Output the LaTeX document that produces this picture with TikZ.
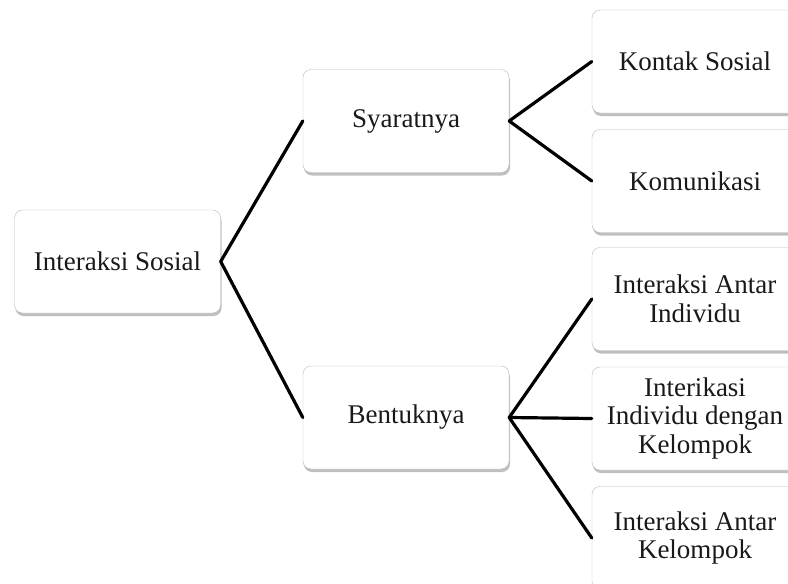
\documentclass[tikz,border=0pt]{standalone}
\usepackage{fontspec}
\setmainfont{Liberation Serif}
\usetikzlibrary{shadows}

\begin{document}
\begin{tikzpicture}[x=1pt,y=-1pt,
        kotak/.style={draw=gray!55, fill=white, rounded corners=8pt,
            minimum width=206pt, minimum height=103pt, align=center,
            font=\fontsize{27}{28.5}\selectfont, text=black!90,
            drop shadow={shadow xshift=1pt,shadow yshift=-3pt,opacity=0.5}},
        garis/.style={line width=3.2pt, line cap=round}]
        \useasboundingbox (0,0) rectangle (788,584);
        \clip (0,0) rectangle (788,584);
        \node[kotak] (IS) at (117.5,261.5) {Interaksi Sosial};
        \node[kotak] (Syarat) at (406,121) {Syaratnya};
        \node[kotak] (Bentuk) at (406,417.5) {Bentuknya};
        \node[kotak] (Kontak) at (695,61.5) {Kontak Sosial};
        \node[kotak] (Komunikasi) at (695,181) {Komunikasi};
        \node[kotak] (AntarIndividu) at (695,299) {Interaksi Antar\\Individu};
        \node[kotak] (IndividuKelompok) at (695,418.5) {Interikasi\\Individu dengan\\Kelompok};
        \node[kotak] (AntarKelompok) at (695,538) {Interaksi Antar\\Kelompok};
        \draw[garis] (IS.east) -- (Syarat.west);
        \draw[garis] (IS.east) -- (Bentuk.west);
        \draw[garis] (Syarat.east) -- (Kontak.west);
        \draw[garis] (Syarat.east) -- (Komunikasi.west);
        \draw[garis] (Bentuk.east) -- (AntarIndividu.west);
        \draw[garis] (Bentuk.east) -- (IndividuKelompok.west);
        \draw[garis] (Bentuk.east) -- (AntarKelompok.west);
    \end{tikzpicture}
\end{document}
